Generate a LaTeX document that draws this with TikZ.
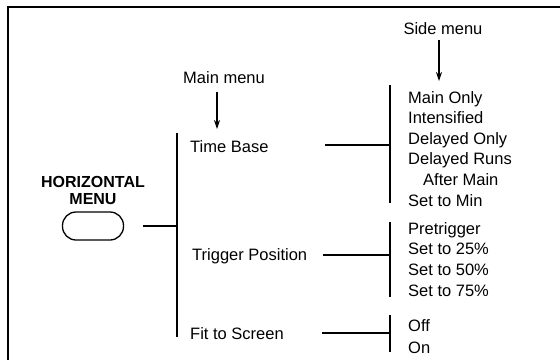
\documentclass[tikz,border=0pt]{standalone}
\usepackage{fontspec}
\setmainfont{Liberation Sans}
\usetikzlibrary{arrows.meta}
\begin{document}
\begin{tikzpicture}[x=1pt,y=-1pt,
  txt/.style={inner sep=0pt,anchor=base west,font=\fontsize{16.5}{20}\selectfont},
  lbl/.style={inner sep=0pt,anchor=base,font=\fontsize{16.5}{20}\selectfont},
  hd/.style={inner sep=0pt,anchor=base,font=\bfseries\fontsize{16}{18}\selectfont},
  bar/.style={line width=1.8pt},
  conn/.style={line width=1.4pt},
  frame/.style={line width=1.2pt},
  pointer/.style={line width=1.1pt,-{Stealth[length=9pt,width=6pt]}},
  btn/.style={draw,line width=1.3pt,minimum width=61pt,minimum height=28pt,rounded corners=13.5pt,inner sep=0pt}]
\useasboundingbox (0,0) rectangle (560,360);
% frame
\coordinate (fr1) at (560,7);
\coordinate (fr2) at (8,7);
\coordinate (fr3) at (8,360);
\draw[frame] (fr1) -- (fr2) -- (fr3);
% left
\node[hd] (hz) at (93,187) {HORIZONTAL};
\node[hd] (mn) at (93,204) {MENU};
\node[btn] (oval) at (93,226) {};
% main menu
\node[lbl] (mainlbl) at (224,83) {Main menu};
\coordinate (ma1) at (217,92);
\coordinate (ma2) at (217,129);
\draw[pointer] (ma1) -- (ma2);
\coordinate (mb1) at (177,133);
\coordinate (mb2) at (177,337);
\draw[bar] (mb1) -- (mb2);
\coordinate (oc1) at (143,226);
\coordinate (oc2) at (177,226);
\draw[conn] (oc1) -- (oc2);
\node[txt] (tb) at (190,152) {Time Base};
\node[txt] (tp) at (192,260) {Trigger Position};
\node[txt] (fs) at (190,339) {Fit to Screen};
% side menu
\node[lbl] (sidelbl) at (443,34) {Side menu};
\coordinate (sa1) at (439,40);
\coordinate (sa2) at (439,81);
\draw[pointer] (sa1) -- (sa2);
% side bars
\coordinate (s1a) at (390,85);
\coordinate (s1b) at (390,203);
\coordinate (s2a) at (390,222);
\coordinate (s2b) at (390,297);
\coordinate (s3a) at (390,315);
\coordinate (s3b) at (390,352);
\draw[bar] (s1a) -- (s1b);
\draw[bar] (s2a) -- (s2b);
\draw[bar] (s3a) -- (s3b);
% connectors
\coordinate (c1a) at (325,145);
\coordinate (c1b) at (390,145);
\coordinate (c2a) at (323,255);
\coordinate (c2b) at (390,255);
\coordinate (c3a) at (322,333);
\coordinate (c3b) at (390,333);
\draw[conn] (c1a) -- (c1b);
\draw[conn] (c2a) -- (c2b);
\draw[conn] (c3a) -- (c3b);
% side items
\node[txt] (s11) at (408,103) {Main Only};
\node[txt] (s12) at (408,123.6) {Intensified};
\node[txt] (s13) at (408,144.2) {Delayed Only};
\node[txt] (s14) at (408,164.8) {Delayed Runs};
\node[txt] (s15) at (423,185.4) {After Main};
\node[txt] (s16) at (408,206) {Set to Min};
\node[txt] (s21) at (408,234) {Pretrigger};
\node[txt] (s22) at (408,254.7) {Set to 25\%};
\node[txt] (s23) at (408,275.4) {Set to 50\%};
\node[txt] (s24) at (408,296.1) {Set to 75\%};
\node[txt] (s31) at (408,331) {Off};
\node[txt] (s32) at (408,353) {On};
\end{tikzpicture}
\end{document}
